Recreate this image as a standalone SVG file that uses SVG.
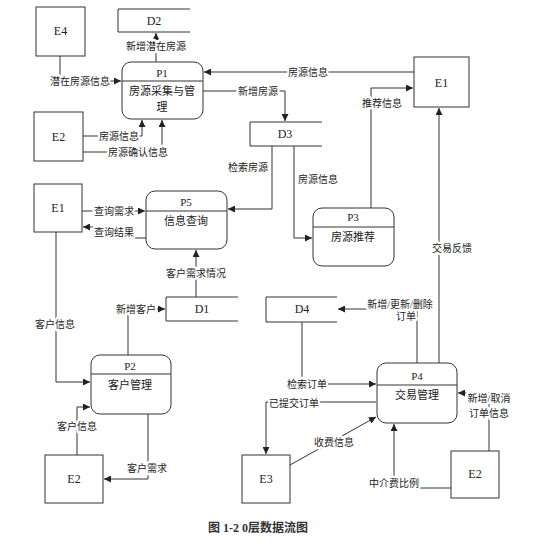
<svg xmlns="http://www.w3.org/2000/svg" width="554" height="556" viewBox="0 0 554 556">
<defs>
<marker id="ar" markerWidth="7" markerHeight="7" refX="7" refY="3.5" orient="auto" markerUnits="userSpaceOnUse">
<path d="M0,0 L7,3.5 L0,7 z" fill="#222"/>
</marker>
<style>
.box{fill:#fff;stroke:#333;stroke-width:1}
.st{fill:none;stroke:#333;stroke-width:1}
.div{stroke:#333;stroke-width:1}
.id{font-family:"Liberation Serif","Noto Sans CJK SC",serif;font-size:12px;fill:#222;text-anchor:middle}
.nt{font-family:"Liberation Serif","Noto Sans CJK SC",serif;font-size:11px;fill:#222;text-anchor:middle}
.c{fill:none;stroke:#333;stroke-width:1;marker-end:url(#ar)}
.lb{font-family:"Liberation Serif","Noto Sans CJK SC",serif;font-size:10px;fill:#222;text-anchor:middle;paint-order:stroke;stroke:#fff;stroke-width:4.5px;stroke-linejoin:round}
.cap{font-family:"Liberation Serif","Noto Sans CJK SC",serif;font-size:12px;font-weight:bold;fill:#333;text-anchor:middle}
</style>
</defs>
<rect width="554" height="556" fill="#fff"/>
<g id="connectors">
<path class="c" d="M156,62 V33"/>
<path class="c" d="M60,56 V81 H121"/>
<path class="c" d="M83,136 H142 V120"/>
<path class="c" d="M83,152 H162 V120"/>
<path class="c" d="M414,72 H204"/>
<path class="c" d="M203,91 H285 V121"/>
<path class="c" d="M272,146 V209 H228"/>
<path class="c" d="M294,146 V238 H312"/>
<path class="c" d="M371,208 V88 H413"/>
<path class="c" d="M439,363 V108"/>
<path class="c" d="M82,211 H145"/>
<path class="c" d="M146,238 H134 V227 H83"/>
<path class="c" d="M196,297 V250"/>
<path class="c" d="M128,355 V309 H165"/>
<path class="c" d="M56,232 V382 H90"/>
<path class="c" d="M77,455 V407 H90"/>
<path class="c" d="M148,414 V479 H104"/>
<path class="c" d="M417,363 V309 H338"/>
<path class="c" d="M302,322 V384 H376"/>
<path class="c" d="M376,402 H266 V454"/>
<path class="c" d="M290,465 L376,417"/>
<path class="c" d="M451,488 H394 V424"/>
<path class="c" d="M489,451 V393 H458"/>
<text class="lb" x="156" y="50">新增潜在房源</text>
<text class="lb" x="80" y="84.5">潜在房源信息</text>
<text class="lb" x="119" y="139.5">房源信息</text>
<text class="lb" x="138" y="155.5">房源确认信息</text>
<text class="lb" x="308" y="75.5">房源信息</text>
<text class="lb" x="258" y="94.5">新增房源</text>
<text class="lb" x="248" y="170.5">检索房源</text>
<text class="lb" x="318" y="182.5">房源信息</text>
<text class="lb" x="382" y="106.5">推荐信息</text>
<text class="lb" x="452" y="251.5">交易反馈</text>
<text class="lb" x="114" y="214.5">查询需求</text>
<text class="lb" x="114" y="235.5">查询结果</text>
<text class="lb" x="196" y="276.5">客户需求情况</text>
<text class="lb" x="136" y="312.5">新增客户</text>
<text class="lb" x="55" y="327.5">客户信息</text>
<text class="lb" x="77" y="429.5">客户信息</text>
<text class="lb" x="147" y="471.5">客户需求</text>
<text class="lb" x="400" y="307.5">新增/更新/删除</text>
<text class="lb" x="406" y="319.5">订单</text>
<text class="lb" x="307" y="387.5">检索订单</text>
<text class="lb" x="294" y="406.5">已提交订单</text>
<text class="lb" x="334" y="445.5">收费信息</text>
<text class="lb" x="394" y="486.5">中介费比例</text>
<text class="lb" x="489" y="402">新增/取消</text>
<text class="lb" x="489" y="416.5">订单信息</text>
</g>
<g id="E4"><rect class="box" x="36" y="7" width="49" height="49"/><text class="id" x="60.5" y="35">E4</text></g>
<g id="D2"><path class="st" d="M190,9 H118 V32 H190"/><text class="id" x="154" y="25">D2</text></g>
<g id="P1"><rect class="box" x="122" y="62" width="81" height="57" rx="9"/><line class="div" x1="122" y1="81" x2="203" y2="81"/><text class="nt" x="162" y="77">P1</text><text class="nt" x="162" y="95">房源采集与管</text><text class="nt" x="162" y="111">理</text></g>
<g id="E2-top"><rect class="box" x="34" y="112" width="49" height="49"/><text class="id" x="58.5" y="141">E2</text></g>
<g id="E1-top"><rect class="box" x="414" y="57" width="55" height="50"/><text class="id" x="441.5" y="87">E1</text></g>
<g id="D3"><path class="st" d="M322,122 H250 V146 H322"/><text class="id" x="285" y="138">D3</text></g>
<g id="P3"><rect class="box" x="313" y="208" width="81" height="58" rx="9"/><line class="div" x1="313" y1="227" x2="394" y2="227"/><text class="nt" x="353" y="221">P3</text><text class="nt" x="353" y="241">房源推荐</text></g>
<g id="E1-left"><rect class="box" x="34" y="184" width="48" height="48"/><text class="id" x="58" y="212">E1</text></g>
<g id="P5"><rect class="box" x="146" y="191" width="81" height="58" rx="9"/><line class="div" x1="146" y1="211" x2="227" y2="211"/><text class="nt" x="186" y="206">P5</text><text class="nt" x="186" y="225">信息查询</text></g>
<g id="D1"><path class="st" d="M238,297 H166 V321 H238"/><text class="id" x="202" y="313">D1</text></g>
<g id="P2"><rect class="box" x="91" y="355" width="80" height="59" rx="9"/><line class="div" x1="91" y1="374" x2="171" y2="374"/><text class="nt" x="130" y="370">P2</text><text class="nt" x="130" y="389">客户管理</text></g>
<g id="E2-bottom"><rect class="box" x="45" y="455" width="58" height="48"/><text class="id" x="74" y="483">E2</text></g>
<g id="D4"><path class="st" d="M337,297 H266 V322 H337"/><text class="id" x="302" y="313">D4</text></g>
<g id="P4"><rect class="box" x="377" y="363" width="80" height="60" rx="9"/><line class="div" x1="377" y1="385" x2="457" y2="385"/><text class="nt" x="417" y="380">P4</text><text class="nt" x="417" y="399">交易管理</text></g>
<g id="E3"><rect class="box" x="242" y="455" width="48" height="48"/><text class="id" x="266" y="483">E3</text></g>
<g id="E2-right"><rect class="box" x="451" y="451" width="48" height="47"/><text class="id" x="475" y="478">E2</text></g>
<text class="cap" x="258" y="532">图 1-2 0层数据流图</text>
</svg>
